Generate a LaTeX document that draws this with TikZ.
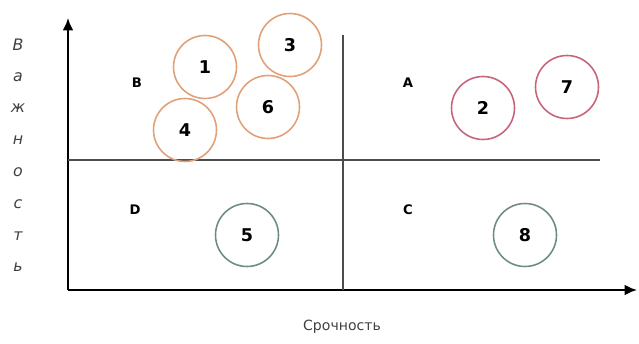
\documentclass[tikz,border=0pt]{standalone}
\usepackage{fontspec}
\setmainfont{DejaVu Sans}
\usetikzlibrary{arrows.meta, positioning}

\definecolor{orangec}{HTML}{E0A078}
\definecolor{redc}{HTML}{C8647A}
\definecolor{tealc}{HTML}{6E8C84}

\begin{document}
\begin{tikzpicture}[x=0.02cm, y=-0.02cm,
  task/.style={circle, draw, line width=0.9pt, minimum size=1.26cm, inner sep=0pt, font=\bfseries\fontsize{10}{10}\selectfont},
  quad/.style={font=\bfseries\fontsize{7.5}{7.5}\selectfont},
  axislbl/.style={font=\fontsize{8}{8}\selectfont, text=black!75}]
\useasboundingbox (0,0) rectangle (639,344);
\coordinate (o) at (68,290);
\coordinate (ytop) at (68,18);
\coordinate (xend) at (637,290);
\coordinate (ml) at (68,160);
\coordinate (mr) at (600,160);
\coordinate (vt) at (343,35);
\coordinate (vb) at (343,290);
\draw[line width=1.1pt, -{Latex[length=7pt, width=6pt]}] (o) -- (ytop);
\draw[line width=1.1pt, -{Latex[length=7pt, width=6pt]}] (o) -- (xend);
\draw[line width=0.7pt, black!70] (ml) -- (mr);
\draw[line width=0.7pt, black!70] (vt) -- (vb);
\node[quad] (qb) at (137,83) {В};
\node[quad] (qa) at (408,83) {A};
\node[quad] (qd) at (135,210) {D};
\node[quad] (qc) at (408,210) {C};
\node[task, draw=orangec] (t1) at (205,67) {1};
\node[task, draw=orangec] (t3) at (290,45) {3};
\node[task, draw=orangec] (t6) at (268,107) {6};
\node[task, draw=orangec] (t4) at (185,130) {4};
\node[task, draw=redc] (t2) at (483,108) {2};
\node[task, draw=redc] (t7) at (567,87) {7};
\node[task, draw=tealc] (t5) at (247,235) {5};
\node[task, draw=tealc] (t8) at (525,235) {8};
\foreach \ch [count=\i] in {В,а,ж,н,о,с,т,ь}
  \node[axislbl, font=\itshape\fontsize{9}{9}\selectfont] (v\i) at (18,{45+31.8*(\i-1)}) {\ch};
\node[axislbl] (xl) at (342,327) {Срочность};
\end{tikzpicture}
\end{document}
